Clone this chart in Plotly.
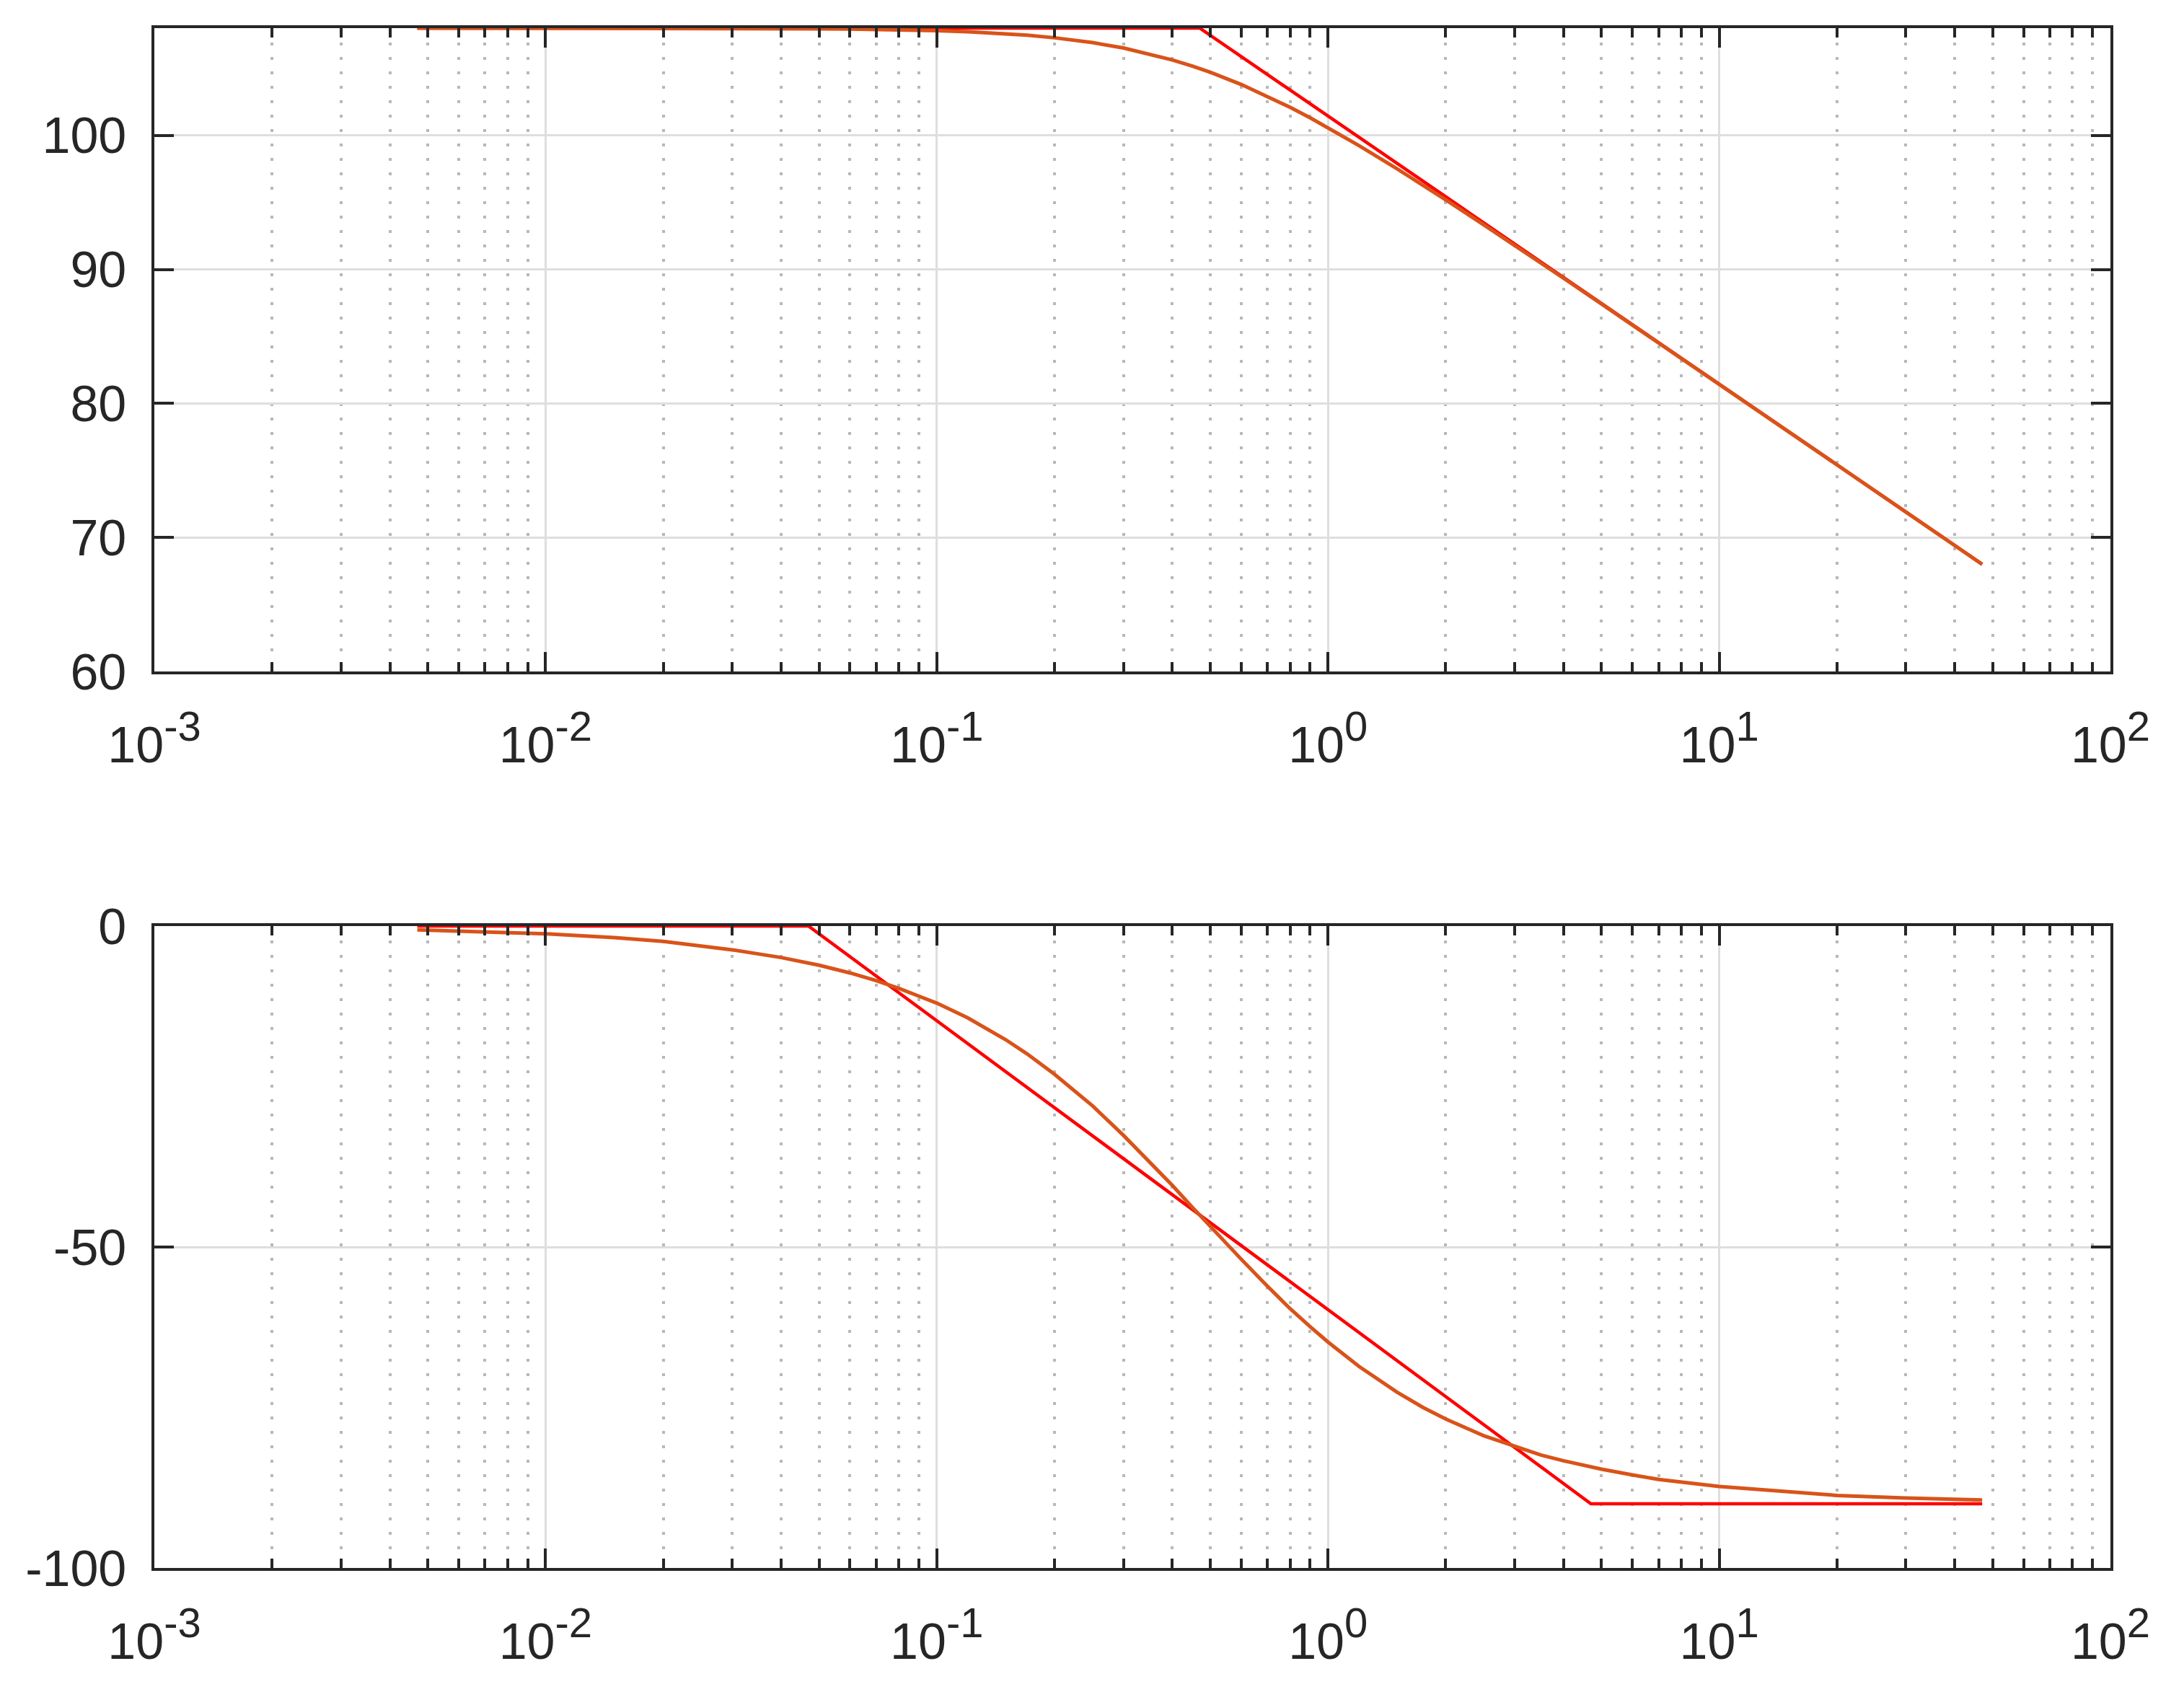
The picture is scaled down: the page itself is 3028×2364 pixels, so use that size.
import plotly.graph_objects as go

# ---- data ----
w_curve = [0.0047, 0.007, 0.01, 0.015, 0.02, 0.03, 0.04, 0.05, 0.06, 0.07, 0.08, 0.1, 0.12, 0.15,
           0.17, 0.2, 0.25, 0.3, 0.35, 0.4, 0.45, 0.5, 0.6, 0.7, 0.8, 0.9, 1, 1.2, 1.5, 1.75, 2,
           2.5, 3, 3.5, 4, 5, 6, 7, 10, 15, 20, 30, 47]
mag_db = [108.0, 108.0, 108.0, 108.0, 107.99, 107.98, 107.97, 107.95, 107.93, 107.90, 107.88,
          107.81, 107.73, 107.58, 107.47, 107.28, 106.92, 106.52, 106.08, 105.63, 105.17, 104.71,
          103.80, 102.92, 102.09, 101.31, 100.58, 99.24, 97.51, 96.28, 95.19, 93.33, 91.80, 90.48,
          89.34, 87.42, 85.85, 84.52, 81.43, 77.92, 75.42, 71.90, 68.0]
phase_deg = [-0.6, -0.85, -1.2, -1.8, -2.4, -3.7, -4.9, -6.1, -7.3, -8.5, -9.7, -12.0, -14.3,
             -17.7, -19.9, -23.1, -28.0, -32.6, -36.7, -40.4, -43.8, -46.8, -51.9, -56.1, -59.6,
             -62.4, -64.8, -68.6, -72.6, -75.0, -76.8, -79.4, -81.1, -82.4, -83.3, -84.6, -85.5,
             -86.2, -87.3, -88.2, -88.7, -89.1, -89.4]

asym_mag_w = [0.0047, 0.47, 47]
asym_mag = [108.0, 108.0, 68.0]
asym_ph_w = [0.0047, 0.047, 4.7, 47]
asym_ph = [0, 0, -90, -90]

x_tickvals = [1e-3, 1e-2, 1e-1, 1, 10, 100]
x_exponents = ["-3", "-2", "-1", "0", "1", "2"]
x_minor = [m * d for d in [1e-3, 1e-2, 1e-1, 1, 10] for m in range(2, 10)]
y1_tickvals = [60, 70, 80, 90, 100]
y1_ticktext = ["60", "70", "80", "90", "100"]
y2_tickvals = [-100, -50, 0]
y2_ticktext = ["-100", "-50", "0"]

# ---- styles ----
RED = "#FF0000"
ORANGE = "#D95319"
AX = "#262626"
W, H = 3028, 2364
xdom = [214 / W, 2926 / W]
y1dom = [1 - 931 / H, 1 - 39 / H]
y2dom = [1 - 2174 / H, 1 - 1284 / H]
FONT = dict(family="Arial, Liberation Sans, Helvetica, sans-serif", size=70, color=AX)
x_ticktext = ["10<sup><span style='font-size:58px'>%s</span></sup>" % e for e in x_exponents]

fig = go.Figure()
fig.add_trace(go.Scatter(x=asym_mag_w, y=asym_mag, mode="lines",
                         line=dict(color=RED, width=4.5), xaxis="x", yaxis="y"))
fig.add_trace(go.Scatter(x=w_curve, y=mag_db, mode="lines",
                         line=dict(color=ORANGE, width=5), xaxis="x", yaxis="y"))
fig.add_trace(go.Scatter(x=asym_ph_w, y=asym_ph, mode="lines",
                         line=dict(color=RED, width=4.5), xaxis="x2", yaxis="y2"))
fig.add_trace(go.Scatter(x=w_curve, y=phase_deg, mode="lines",
                         line=dict(color=ORANGE, width=5), xaxis="x2", yaxis="y2"))


def xaxis(anchor):
    return dict(
        type="log", range=[-3, 2], domain=xdom, anchor=anchor, automargin=False,
        tickvals=x_tickvals, ticktext=x_ticktext, tickfont=FONT,
        ticks="inside", ticklen=27, tickwidth=3.5, tickcolor=AX,
        showline=True, linecolor=AX, linewidth=3.5, mirror="allticks",
        showgrid=True, gridcolor="#DEDEDE", gridwidth=3,
        zeroline=False, ticklabelstandoff=38,
        minor=dict(tickvals=x_minor, ticks="inside", ticklen=13, tickwidth=3.5,
                   tickcolor=AX, showgrid=True, gridcolor="#B8B8B8", gridwidth=4,
                   griddash="4px,16px"),
    )


def yaxis(anchor, rng, tv, tt, dom):
    return dict(
        range=rng, domain=dom, anchor=anchor, automargin=False,
        tickvals=tv, ticktext=tt, tickfont=FONT,
        ticks="inside", ticklen=27, tickwidth=3.5, tickcolor=AX,
        showline=True, linecolor=AX, linewidth=3.5, mirror="allticks",
        showgrid=True, gridcolor="#DEDEDE", gridwidth=3,
        zeroline=False, ticklabelstandoff=21,
    )


fig.update_layout(
    width=W, height=H,
    margin=dict(l=0, r=0, t=0, b=0, autoexpand=False),
    paper_bgcolor="white", plot_bgcolor="white",
    showlegend=False,
    font=FONT,
    xaxis=xaxis("y"),
    yaxis=yaxis("x", [60, 108.0], y1_tickvals, y1_ticktext, y1dom),
    xaxis2=xaxis("y2"),
    yaxis2=yaxis("x2", [-100, 0], y2_tickvals, y2_ticktext, y2dom),
)

fig.write_html("out.html", config={"displayModeBar": False},
               post_script="document.body.style.margin='0px';")
